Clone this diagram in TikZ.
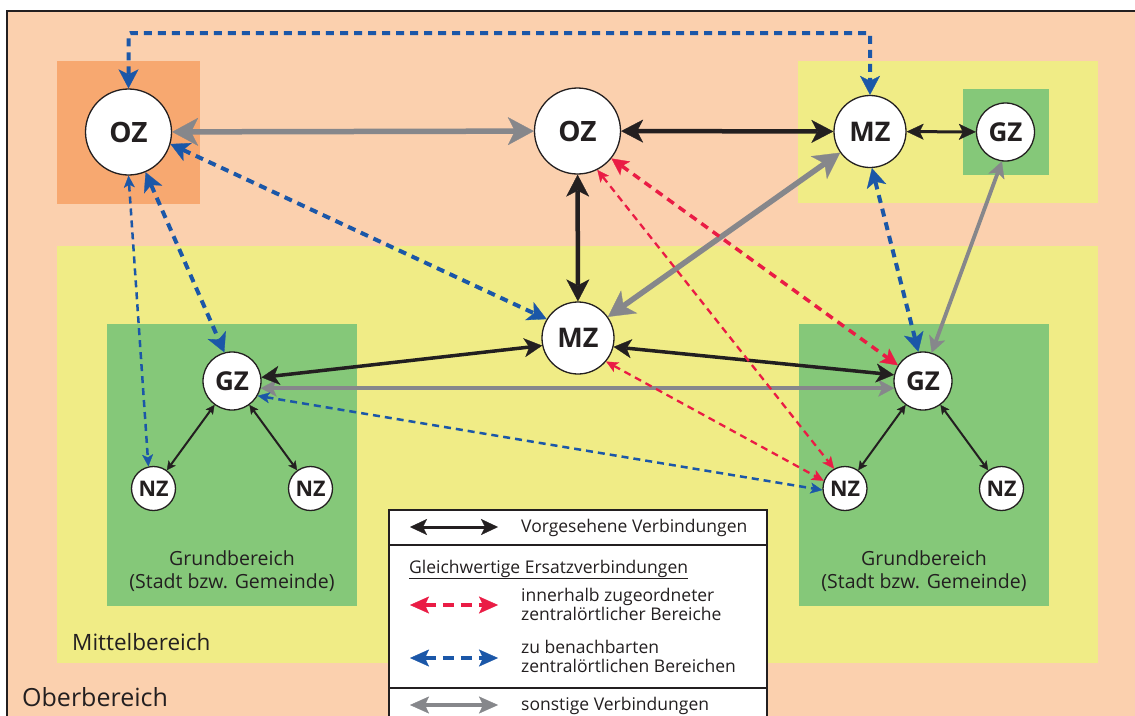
\documentclass[tikz,border=0pt]{standalone}
\usepackage{fontspec}
\setmainfont{Open Sans}
\usetikzlibrary{arrows.meta}
\definecolor{peach}{HTML}{FBD0AE}
\definecolor{orangebox}{HTML}{F7A870}
\definecolor{yel}{HTML}{F0EC86}
\definecolor{grn}{HTML}{85C879}
\definecolor{blu}{HTML}{1B57A8}
\definecolor{redd}{HTML}{EA1C45}
\definecolor{gry}{HTML}{86878B}
\definecolor{dark}{HTML}{231F20}
\tikzset{
  ctr/.style={circle, draw=dark, fill=white, line width=1.3pt, inner sep=0pt, text=dark},
  oz/.style={ctr, minimum size=86pt, font=\bfseries\fontsize{28}{28}\selectfont},
  mz/.style={ctr, minimum size=72pt, font=\bfseries\fontsize{27}{27}\selectfont},
  gz/.style={ctr, minimum size=58pt, font=\bfseries\fontsize{26}{26}\selectfont},
  nz/.style={ctr, minimum size=44pt, font=\bfseries\fontsize{21.5}{21.5}\selectfont},
  gryA/.style={draw=gry, line width=5.5pt, {Stealth[length=26pt,width=28pt,inset=7pt,line width=0.3pt]}-{Stealth[length=26pt,width=28pt,inset=7pt,line width=0.3pt]}},
  blkA/.style={draw=dark, line width=4.5pt, {Stealth[length=22pt,width=23pt,inset=6pt,line width=0.3pt]}-{Stealth[length=22pt,width=23pt,inset=6pt,line width=0.3pt]}},
  blkM/.style={draw=dark, line width=3pt, {Stealth[length=17pt,width=16pt,inset=4pt,line width=0.3pt]}-{Stealth[length=17pt,width=16pt,inset=4pt,line width=0.3pt]}},
  blkN/.style={draw=dark, line width=3.5pt, {Stealth[length=18pt,width=19pt,inset=5pt,line width=0.3pt]}-{Stealth[length=18pt,width=19pt,inset=5pt,line width=0.3pt]}},
  gryM/.style={draw=gry, line width=3.8pt, {Stealth[length=16pt,width=17pt,inset=4pt,line width=0.3pt]}-{Stealth[length=16pt,width=17pt,inset=4pt,line width=0.3pt]}},
  blkS/.style={draw=dark, line width=2pt, {Stealth[length=9pt,width=9pt,inset=2pt,line width=0.3pt]}-{Stealth[length=9pt,width=9pt,inset=2pt,line width=0.3pt]}},
  bluT/.style={draw=blu, line width=4pt, dash pattern=on 8pt off 6pt, {Stealth[length=19pt,width=20pt,inset=5pt,line width=0.3pt]}-{Stealth[length=19pt,width=20pt,inset=5pt,line width=0.3pt]}},
  bluS/.style={draw=blu, line width=2.5pt, dash pattern=on 7pt off 5pt, {Stealth[length=12pt,width=11pt,inset=3pt,line width=0.3pt]}-{Stealth[length=12pt,width=11pt,inset=3pt,line width=0.3pt]}},
  redT/.style={draw=redd, line width=3.5pt, dash pattern=on 8pt off 6pt, {Stealth[length=17pt,width=17pt,inset=4pt,line width=0.3pt]}-{Stealth[length=17pt,width=17pt,inset=4pt,line width=0.3pt]}},
  redS/.style={draw=redd, line width=2.3pt, dash pattern=on 7pt off 5pt, {Stealth[length=12pt,width=11pt,inset=3pt,line width=0.3pt]}-{Stealth[length=12pt,width=11pt,inset=3pt,line width=0.3pt]}},
  legBlk/.style={draw=dark, line width=3pt, {Stealth[length=17pt,width=16pt,inset=4pt,line width=0.3pt]}-{Stealth[length=17pt,width=16pt,inset=4pt,line width=0.3pt]}},
  legRed/.style={draw=redd, line width=3.5pt, dash pattern=on 11pt off 7pt, {Stealth[length=19pt,width=17pt,inset=4pt,line width=0.3pt]}-{Stealth[length=19pt,width=17pt,inset=4pt,line width=0.3pt]}},
  legBlu/.style={legRed, draw=blu},
  legGry/.style={draw=gry, line width=3.5pt, {Stealth[length=19pt,width=17pt,inset=4pt,line width=0.3pt]}-{Stealth[length=19pt,width=17pt,inset=4pt,line width=0.3pt]}},
  legtext/.style={anchor=base west, inner sep=0pt, text=dark, font=\fontsize{17.5}{19.5}\selectfont},
  areatext/.style={inner sep=0pt, text=dark, font=\fontsize{19.5}{22}\selectfont},
}
\begin{document}
\begin{tikzpicture}[x=1pt,y=-1pt]
\useasboundingbox (0,0) rectangle (1135,715);
\clip (0,0) rectangle (1135,715);
\fill[white] (0,0) rectangle (1135,715);
% Oberbereich
\fill[peach] (7,11) rectangle (1140,720);
\draw[dark, line width=2pt] (7,720) -- (7,11) -- (1140,11);
% zones
\fill[orangebox] (57,61) rectangle (200,204);
\fill[yel] (798,61) rectangle (1098,203);
\fill[grn] (963,89) rectangle (1049,175);
\fill[yel] (57,246) rectangle (1098,663);
\fill[grn] (107,324) rectangle (357,606);
\fill[grn] (799,324) rectangle (1049,606);
% texts of areas
\node[areatext, anchor=base west, font=\fontsize{22.5}{24}\selectfont] (mittel) at (72,650) {Mittelbereich};
\node[areatext, anchor=base west, font=\fontsize{25}{27}\selectfont] (ober) at (22,706) {Oberbereich};
\node[areatext, anchor=base] (g1a) at (232,565) {Grundbereich};
\node[areatext, anchor=base] (g1b) at (232,588) {(Stadt bzw. Gemeinde)};
\node[areatext, anchor=base] (g2a) at (924,565) {Grundbereich};
\node[areatext, anchor=base] (g2b) at (924,588) {(Stadt bzw. Gemeinde)};
% centres
\node[oz] (ozl) at (128.5,132) {OZ};
\node[oz] (ozc) at (577.5,131) {OZ};
\node[mz] (mzt) at (870,131.5) {MZ};
\node[gz] (gzt) at (1005.5,132) {GZ};
\node[mz] (mzc) at (578,338) {MZ};
\node[gz] (gzl) at (232,381) {GZ};
\node[gz] (gzr) at (923,381) {GZ};
\node[nz] (nz1) at (153.5,488.5) {NZ};
\node[nz] (nz2) at (310.5,488.5) {NZ};
\node[nz] (nz3) at (845,488.5) {NZ};
\node[nz] (nz4) at (1001.5,488.5) {NZ};
% connectors: sonstige
\draw[gryA] (ozl) -- (ozc);
\draw[gryA] (mzc) -- (mzt);
\draw[gryM] (gzt.263) -- (gzr.73);
\draw[gryM] (gzl.346) -- (gzr.194);
% vorgesehene
\draw[blkA] (ozc) -- (mzt);
\draw[blkM] (mzt) -- (gzt);
\draw[blkA] (ozc) -- (mzc);
\draw[blkN] (gzl.7) -- (mzc.192);
\draw[blkN] (mzc.346) -- (gzr.168);
\draw[blkS] (gzl) -- (nz1);
\draw[blkS] (gzl) -- (nz2);
\draw[blkS] (gzr) -- (nz3);
\draw[blkS] (gzr) -- (nz4);
% blue
\coordinate (c1) at (128.5,33);
\coordinate (c2) at (870,33);
\draw[bluT, rounded corners=2pt] (ozl.north) -- (c1) -- (c2) -- (mzt.north);
\draw[bluT] (ozl.344) -- (mzc.149);
\draw[bluT] (ozl.293) -- (gzl.105);
\draw[bluS] (ozl.270) -- (nz1.103);
\draw[bluT] (mzt.273) -- (gzr.99);
\draw[bluS] (gzl.330) -- (nz3.184);
% red
\draw[redT] (ozc.321) -- (gzr.148);
\draw[redS] (ozc.297) -- (nz3.119);
\draw[redS] (mzc.320) -- (nz3.160);
% legend
\draw[fill=white, draw=dark, line width=1.3pt] (389,510) rectangle (767,730);
\draw[dark, line width=1.3pt] (389,545) -- (767,545);
\draw[dark, line width=1.3pt] (389,688) -- (767,688);
\coordinate (la1) at (410,527); \coordinate (lb1) at (498,527);
\coordinate (la2) at (410,605); \coordinate (lb2) at (498,605);
\coordinate (la3) at (410,658); \coordinate (lb3) at (498,658);
\coordinate (la4) at (410,705); \coordinate (lb4) at (498,705);
\draw[legBlk] (la1) -- (lb1);
\draw[legRed] (la2) -- (lb2);
\draw[legBlu] (la3) -- (lb3);
\draw[legGry] (la4) -- (lb4);
\node[legtext] (t1) at (521,532) {Vorgesehene Verbindungen};
\node[legtext] (t2) at (409,573) {\underline{Gleichwertige Ersatzverbindungen}};
\node[legtext] (t3a) at (521,601) {innerhalb zugeordneter};
\node[legtext] (t3b) at (521,620) {zentralörtlicher Bereiche};
\node[legtext] (t4a) at (521,653) {zu benachbarten};
\node[legtext] (t4b) at (521,672) {zentralörtlichen Bereichen};
\node[legtext] (t5) at (521,710) {sonstige Verbindungen};
\end{tikzpicture}
\end{document}
